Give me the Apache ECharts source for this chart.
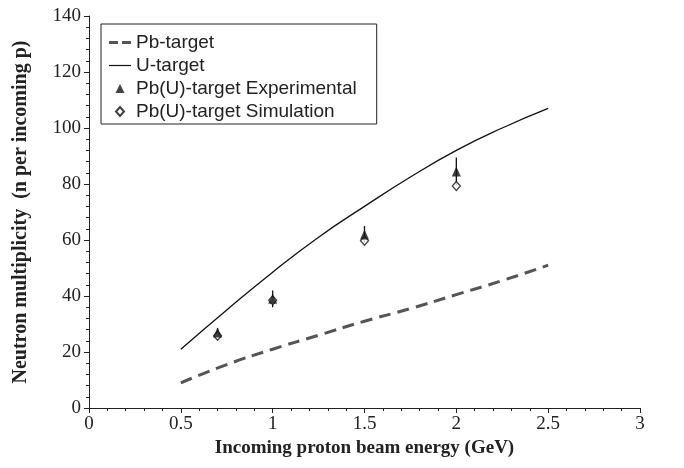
<!DOCTYPE html>
<html>
<head>
<meta charset="utf-8">
<script src="https://cdn.jsdelivr.net/npm/echarts@6/dist/echarts.min.js"></script>
<style>
  html, body { margin: 0; padding: 0; background: #fff; }
  #chart { width: 684px; height: 468px; }
</style>
</head>
<body>
<div id="chart"></div>
<script>
// energies of the calculated curves (GeV)
const energy = [0.5, 0.75, 1.0, 1.25, 1.5, 1.75, 2.0, 2.25, 2.5]
const pbTarget = [9, 15.5, 21, 26, 31, 35.5, 40.5, 45.5, 51]
const uTarget = [21, 35, 48.5, 61, 72, 82.5, 92, 100, 107]

// measured / simulated points
const pointEnergy = [0.7, 1.0, 1.5, 2.0]
const experimental = [27, 39, 62, 84.5]
const expError = [1.5, 3, 3, 5]
const simulation = [25.8, 38.5, 59.7, 79.3]

const xTicks = [0, 0.5, 1, 1.5, 2, 2.5, 3]
const yTicks = [0, 20, 40, 60, 80, 100, 120, 140]

const pair = (xs, ys) => xs.map((x, i) => [x, ys[i]])

const chart = echarts.init(document.getElementById('chart'))

const serif = '"Liberation Serif", "DejaVu Serif", serif'
const sans = '"Liberation Sans", Arial, sans-serif'

chart.setOption({
  animation: false,
  backgroundColor: '#fff',
  grid: {
    left: 89,
    right: 44,
    top: 16,
    bottom: 60
  },
  legend: {
    orient: 'vertical',
    left: 101,
    top: 24,
    itemWidth: 22,
    itemHeight: 9,
    itemGap: 4,
    padding: [9, 20, 3, 8],
    borderColor: '#222',
    borderWidth: 1,
    textStyle: { fontFamily: sans, fontSize: 19, color: '#222' },
    data: [
      { name: 'Pb-target', icon: 'path://M0,0H9V3H0Z M13,0H22V3H13Z' },
      { name: 'U-target', icon: 'path://M0,0H22V1.2H0Z' },
      { name: 'Pb(U)-target Experimental', icon: 'path://M4,0L8,8L0,8Z' },
      { name: 'Pb(U)-target Simulation', icon: 'path://M4,0L8,4.5L4,9L0,4.5Z' }
    ]
  },
  xAxis: {
    type: 'value',
    min: xTicks[0],
    max: xTicks[xTicks.length - 1],
    interval: 0.5,
    name: 'Incoming proton beam energy (GeV)',
    nameLocation: 'middle',
    nameGap: 27,
    nameTextStyle: { fontFamily: serif, fontSize: 19, fontWeight: 'bold', color: '#222' },
    axisLine: { lineStyle: { color: '#222', width: 1 } },
    axisTick: { inside: false, length: 5, lineStyle: { color: '#222' } },
    minorTick: { show: true, splitNumber: 5, length: 3, lineStyle: { color: '#222' } },
    splitLine: { show: false },
    axisLabel: {
      fontFamily: serif,
      fontSize: 19,
      color: '#222',
      margin: 7,
      formatter: v => String(v)
    }
  },
  yAxis: {
    type: 'value',
    min: yTicks[0],
    max: yTicks[yTicks.length - 1],
    interval: 20,
    name: 'Neutron multiplicity  (n per incoming p)',
    nameLocation: 'middle',
    nameGap: 58,
    nameTextStyle: { fontFamily: serif, fontSize: 20, fontWeight: 'bold', color: '#222' },
    axisLine: { show: true, lineStyle: { color: '#222', width: 1 } },
    axisTick: { show: true, inside: false, length: 5, lineStyle: { color: '#222' } },
    minorTick: { show: true, splitNumber: 5, length: 3, lineStyle: { color: '#222' } },
    splitLine: { show: false },
    axisLabel: { fontFamily: serif, fontSize: 19, color: '#222', margin: 8 }
  },
  series: [
    {
      name: 'Pb-target',
      type: 'line',
      data: pair(energy, pbTarget),
      smooth: true,
      symbol: 'none',
      color: '#555',
      lineStyle: { color: '#555', width: 3, type: [12, 7] }
    },
    {
      name: 'U-target',
      type: 'line',
      data: pair(energy, uTarget),
      smooth: true,
      symbol: 'none',
      color: '#111',
      lineStyle: { color: '#111', width: 1.3 }
    },
    {
      name: 'error',
      type: 'custom',
      data: pointEnergy.map((x, i) => [x, experimental[i] - expError[i], experimental[i] + expError[i]]),
      renderItem: (params, api) => {
        const lo = api.coord([api.value(0), api.value(1)])
        const hi = api.coord([api.value(0), api.value(2)])
        return {
          type: 'line',
          shape: { x1: lo[0], y1: lo[1], x2: hi[0], y2: hi[1] },
          style: { stroke: '#111', lineWidth: 1.3 }
        }
      },
      z: 3
    },
    {
      name: 'Pb(U)-target Simulation',
      type: 'scatter',
      data: pair(pointEnergy, simulation),
      symbol: 'diamond',
      symbolSize: [8, 9],
      color: '#fff',
      itemStyle: { color: '#fff', borderColor: '#111', borderWidth: 1.3 },
      z: 4
    },
    {
      name: 'Pb(U)-target Experimental',
      type: 'scatter',
      data: pair(pointEnergy, experimental),
      symbol: 'triangle',
      symbolSize: [9, 10],
      color: '#111',
      itemStyle: { color: '#111' },
      z: 5
    }
  ]
})
</script>
</body>
</html>
